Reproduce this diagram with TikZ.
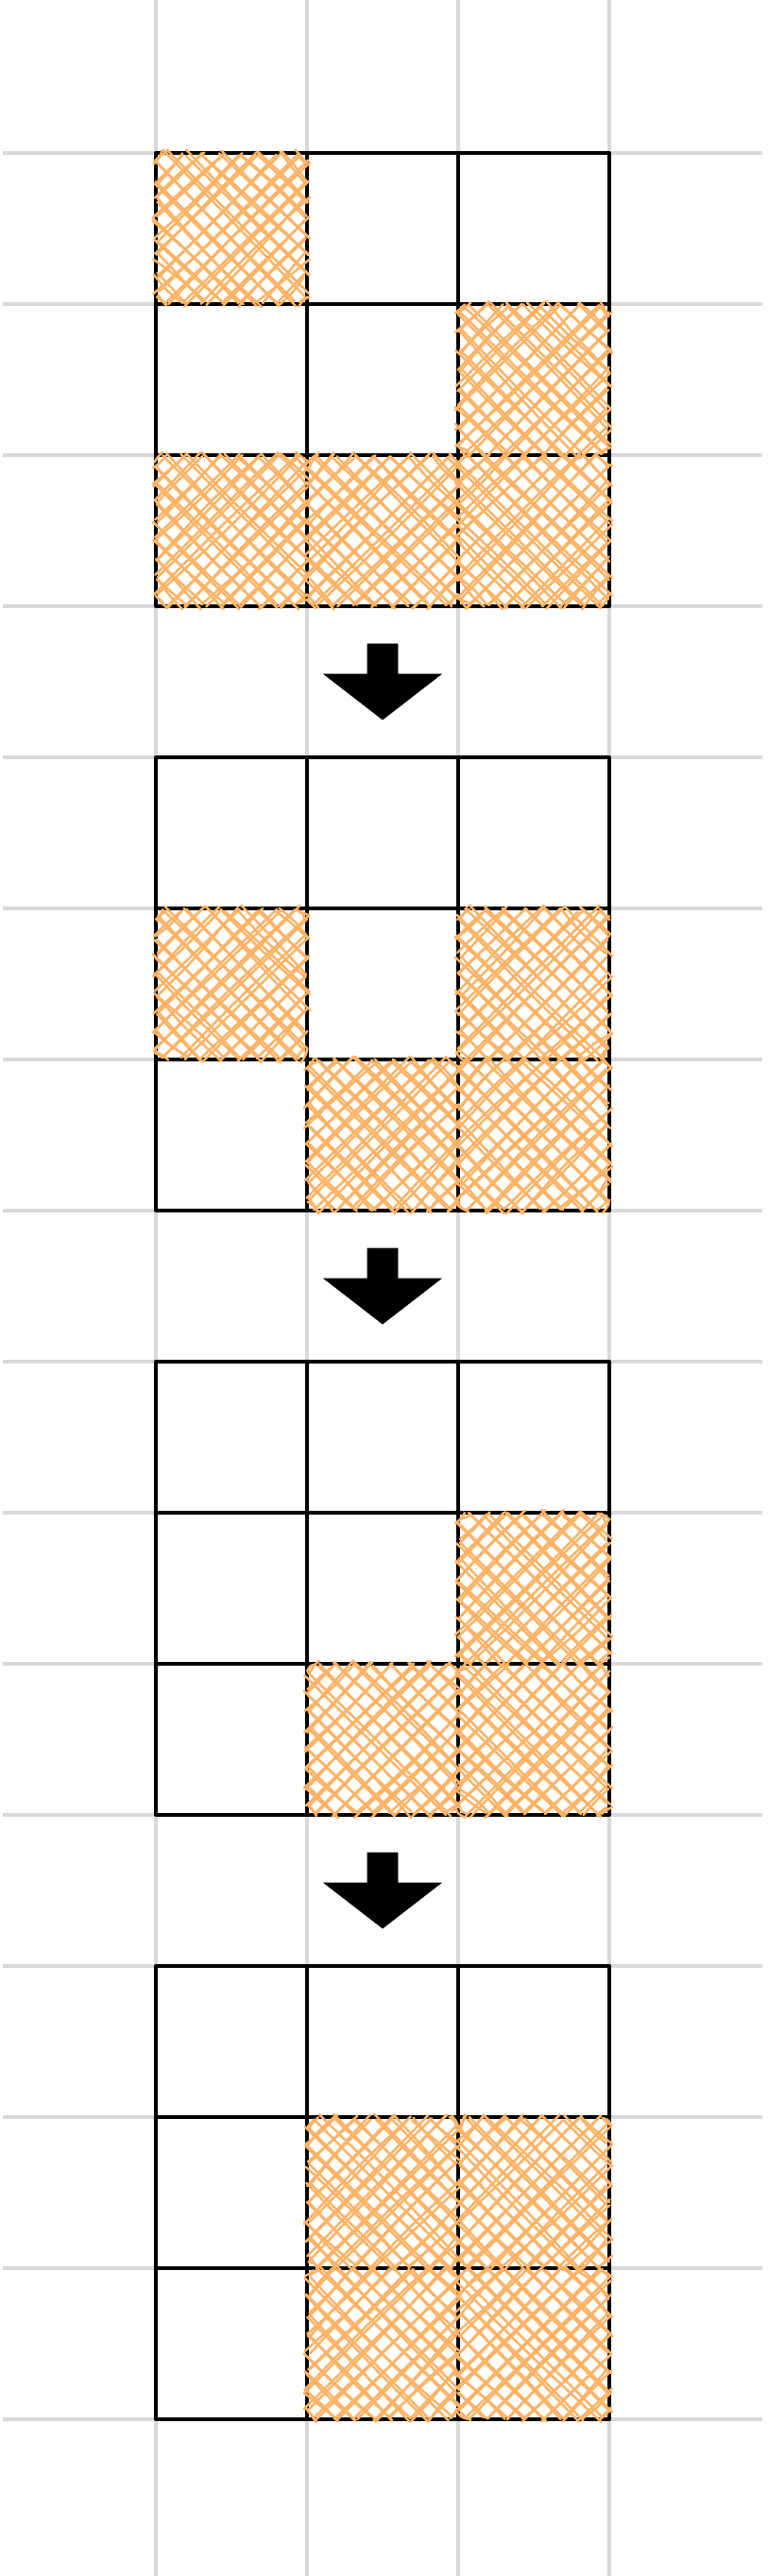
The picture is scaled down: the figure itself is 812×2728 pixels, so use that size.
\documentclass[tikz,border=0pt]{standalone}
\usetikzlibrary{calc}
\definecolor{gridgray}{RGB}{217,217,217}
\definecolor{hatchorange}{RGB}{255,179,102}
\tikzset{
  gridline/.style={draw=gridgray,line width=0.9pt},
  cellline/.style={draw=black,line width=1.15pt,line cap=round,line join=round},
  hatchline/.style={draw=hatchorange,line width=0.7pt,line cap=round},
  bigarrow/.style={fill=black,draw=black,line width=0.2pt}
}
\newcommand{\hatchcell}[2]{%
  \begin{scope}[shift={(#1,#2)}]
    \foreach \c in {-150,-130,...,150}{%
      \pgfmathsetmacro{\ax}{max(\c,0)}%
      \pgfmathsetmacro{\ay}{max(-\c,0)}%
      \pgfmathsetmacro{\bx}{min(160+\c,160)}%
      \pgfmathsetmacro{\by}{min(160-\c,160)}%
      \foreach \k in {1,2}{%
        \pgfmathsetmacro{\pa}{\ax+3.5*rand}%
        \pgfmathsetmacro{\pb}{\ay+3.5*rand}%
        \pgfmathsetmacro{\qa}{\bx+3.5*rand}%
        \pgfmathsetmacro{\qb}{\by+3.5*rand}%
        \pgfmathsetmacro{\ma}{(\pa+\qa)/2+2.5*rand}%
        \pgfmathsetmacro{\mb}{(\pb+\qb)/2+2.5*rand}%
        \draw[hatchline] (\pa,\pb) .. controls (\ma,\mb) .. (\qa,\qb);
      }%
    }%
    \foreach \d in {10,30,...,310}{%
      \pgfmathsetmacro{\ax}{min(\d,160)}%
      \pgfmathsetmacro{\ay}{max(\d-160,0)}%
      \pgfmathsetmacro{\bx}{max(\d-160,0)}%
      \pgfmathsetmacro{\by}{min(\d,160)}%
      \foreach \k in {1,2}{%
        \pgfmathsetmacro{\pa}{\ax+3.5*rand}%
        \pgfmathsetmacro{\pb}{\ay+3.5*rand}%
        \pgfmathsetmacro{\qa}{\bx+3.5*rand}%
        \pgfmathsetmacro{\qb}{\by+3.5*rand}%
        \pgfmathsetmacro{\ma}{(\pa+\qa)/2+2.5*rand}%
        \pgfmathsetmacro{\mb}{(\pb+\qb)/2+2.5*rand}%
        \draw[hatchline] (\pa,\pb) .. controls (\ma,\mb) .. (\qa,\qb);
      }%
    }%
  \end{scope}%
}
\newcommand{\cellgrid}[1]{%
  \draw[cellline] (165,#1) rectangle (645,#1+480);
  \draw[cellline] (325,#1) -- (325,#1+480);
  \draw[cellline] (485,#1) -- (485,#1+480);
  \draw[cellline] (165,#1+160) -- (645,#1+160);
  \draw[cellline] (165,#1+320) -- (645,#1+320);
}
\newcommand{\stagearrow}[1]{%
  \fill[bigarrow] (389,#1+40) -- (421,#1+40) -- (421,#1+72) -- (467,#1+72)
    -- (405,#1+120) -- (343,#1+72) -- (389,#1+72) -- cycle;
}
\begin{document}
\begin{tikzpicture}[x=0.01cm,y=-0.01cm]
\pgfmathsetseed{4242}
\useasboundingbox (0,0) rectangle (812,2728);
\fill[white] (0,0) rectangle (812,2728);
% background grid
\foreach \gx in {165,325,485,645}{
  \draw[gridline] (\gx,0) -- (\gx,2728);
}
\foreach \gy in {162,322,...,2562}{
  \draw[gridline] (3,\gy) -- (807,\gy);
}
% blocks
\cellgrid{162}
\cellgrid{802}
\cellgrid{1442}
\cellgrid{2082}
% hatched cells block 1
\hatchcell{165}{162}
\hatchcell{485}{322}
\hatchcell{165}{482}
\hatchcell{325}{482}
\hatchcell{485}{482}
% block 2
\hatchcell{165}{962}
\hatchcell{485}{962}
\hatchcell{325}{1122}
\hatchcell{485}{1122}
% block 3
\hatchcell{485}{1602}
\hatchcell{325}{1762}
\hatchcell{485}{1762}
% block 4
\hatchcell{325}{2242}
\hatchcell{485}{2242}
\hatchcell{325}{2402}
\hatchcell{485}{2402}
% arrows
\stagearrow{642}
\stagearrow{1282}
\stagearrow{1922}
\end{tikzpicture}
\end{document}
